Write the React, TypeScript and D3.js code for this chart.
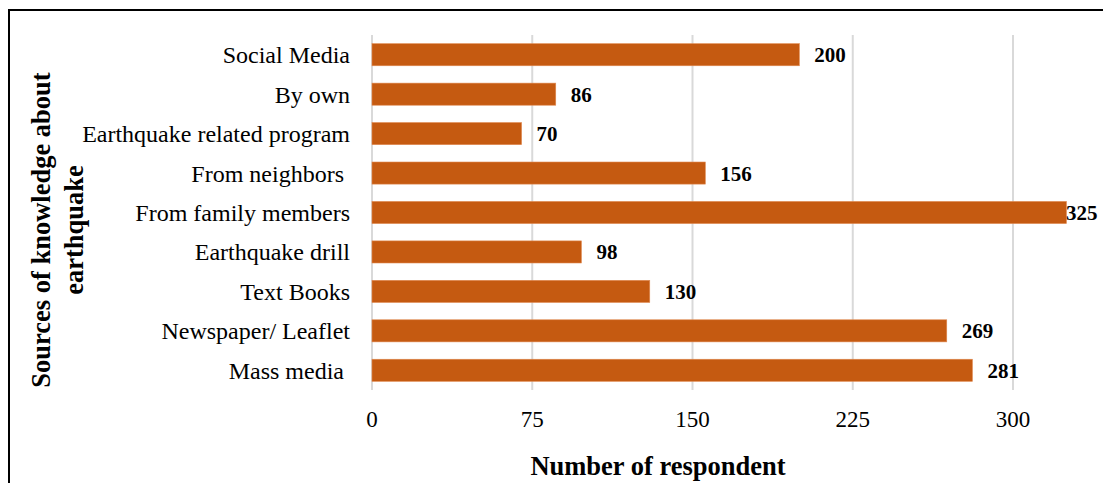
import React from "react";
import * as d3 from "d3";

const categories = [
  "Social Media",
  "By own",
  "Earthquake related program",
  "From neighbors ",
  "From family members",
  "Earthquake drill",
  "Text Books",
  "Newspaper/ Leaflet",
  "Mass media ",
];
const values = [200, 86, 70, 156, 325, 98, 130, 269, 281];
const ticks = [0, 75, 150, 225, 300];
const xTitle = "Number of respondent";
const yTitleLines = ["Sources of knowledge about", "earthquake"];

const W = 1103;
const H = 483;
const left = 372;
const right = 1013;
const top = 35;
const bottom = 390;
const FONT = "'Liberation Serif', 'Times New Roman', serif";
const BAR = "#C55A11";

export default function App() {
  const x = d3.scaleLinear().domain([0, 300]).range([left, right]);
  const y = d3
    .scaleBand<string>()
    .domain(categories)
    .range([top, bottom])
    .paddingInner(0.44)
    .paddingOuter(0.22);
  const bw = y.bandwidth();
  const labelMaxX = 1066;

  return (
    <svg
      width={W}
      height={H}
      style={{ position: "absolute", left: 0, top: 0, background: "#fff" }}
      fontFamily={FONT}
    >
      <rect x={0} y={0} width={W} height={H} fill="#fff" />
      <rect x={9} y={10} width={1300} height={700} fill="none" stroke="#000" strokeWidth={2} />
      {ticks.map((t) => (
        <line key={"g" + t} x1={x(t)} x2={x(t)} y1={top} y2={bottom} stroke="#D9D9D9" strokeWidth={2} />
      ))}
      {categories.map((c, i) => {
        const yy = y(c)!;
        const v = values[i];
        return (
          <g key={c}>
            <rect x={x(0)} y={yy} width={x(v) - x(0)} height={bw} fill={BAR} stroke="#E0884F" strokeWidth={0.6} />
            <text
              x={350}
              y={yy + bw / 2 + 8.5}
              textAnchor="end"
              fontSize={24}
              fill="#000"
              style={{ whiteSpace: "pre" }}
            >
              {c}
            </text>
            <text
              x={Math.min(x(v) + 15, labelMaxX)}
              y={yy + bw / 2 + 7.5}
              fontSize={21}
              fontWeight="bold"
              fill="#000"
            >
              {v}
            </text>
          </g>
        );
      })}
      {ticks.map((t) => (
        <text key={"t" + t} x={x(t)} y={427} textAnchor="middle" fontSize={23} fill="#000">
          {t}
        </text>
      ))}
      <text x={658} y={475} textAnchor="middle" fontSize={26.5} fontWeight="bold" fill="#000">
        {xTitle}
      </text>
      <g transform="translate(0,230) rotate(-90)">
        {yTitleLines.map((l, i) => (
          <text key={l} x={0} y={50 + i * 33} textAnchor="middle" fontSize={26.5} fontWeight="bold" fill="#000">
            {l}
          </text>
        ))}
      </g>
    </svg>
  );
}
